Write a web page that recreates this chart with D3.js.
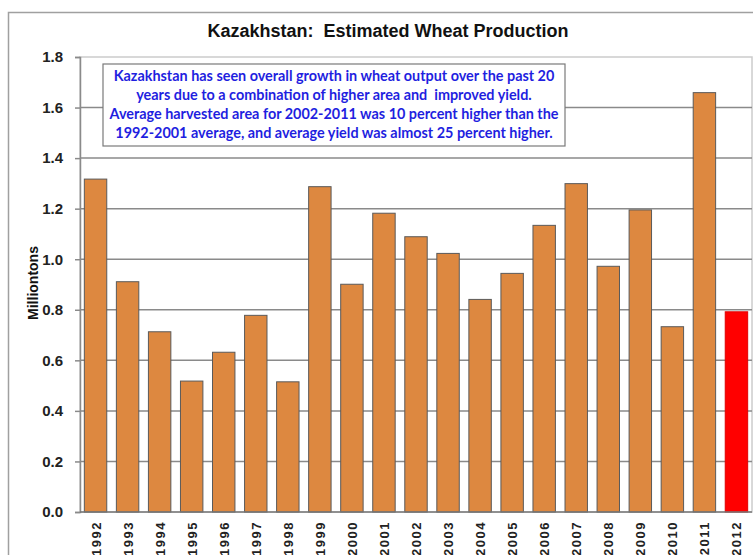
<!DOCTYPE html>
<html>
<head>
<meta charset="utf-8">
<script src="https://cdn.jsdelivr.net/npm/d3@7"></script>
<style>
  body { margin: 0; background: #fff; }
  svg { display: block; }
</style>
</head>
<body>
<div id="chart"></div>
<script>
// wheat production, million tons
var years = ["1992","1993","1994","1995","1996","1997","1998","1999","2000","2001","2002",
             "2003","2004","2005","2006","2007","2008","2009","2010","2011","2012"];
var production = [1.317, 0.911, 0.713, 0.518, 0.632, 0.778, 0.515, 1.287, 0.901, 1.182, 1.089,
                  1.023, 0.841, 0.944, 1.134, 1.299, 0.972, 1.195, 0.733, 1.659, 0.792];
var yTicks = [0, 0.2, 0.4, 0.6, 0.8, 1.0, 1.2, 1.4, 1.6, 1.8];
var note = [
  "Kazakhstan has seen overall growth in wheat output over the past 20",
  "years due to a combination of higher area and  improved yield.",
  "Average harvested area for 2002-2011 was 10 percent higher than the",
  "1992-2001 average, and average yield was almost 25 percent higher."
];

var width = 753, height = 555;
var plot = {left: 80, right: 752, top: 57, bottom: 512};

var svg = d3.select("#chart").append("svg")
  .attr("width", width)
  .attr("height", height);

// outer chart frame (cut off on the right and bottom)
svg.append("path")
  .attr("d", "M8.5," + height + "V12.5H" + width)
  .attr("fill", "none")
  .attr("stroke", "#a0a0a0")
  .attr("stroke-width", 1.5);

// scales
var x = d3.scaleBand()
  .domain(years)
  .range([plot.left, plot.right])
  .paddingInner(0.3)
  .paddingOuter(0.135);

var y = d3.scaleLinear()
  .domain([0, 1.8])
  .range([plot.bottom, plot.top]);

// plot area border
svg.append("rect")
  .attr("x", plot.left)
  .attr("y", plot.top)
  .attr("width", plot.right - plot.left)
  .attr("height", plot.bottom - plot.top)
  .attr("fill", "none")
  .attr("stroke", "#cccccc")
  .attr("stroke-width", 1.5);

// gridlines
svg.selectAll(".grid")
  .data(yTicks.filter(function(d) { return d > 0 && d < 1.8; }))
  .enter().append("line")
  .attr("class", "grid")
  .attr("x1", plot.left)
  .attr("x2", plot.right)
  .attr("y1", function(d) { return y(d); })
  .attr("y2", function(d) { return y(d); })
  .attr("stroke", "#8a8a8a")
  .attr("stroke-width", 1.5);

// y axis
var yAxis = svg.append("g")
  .attr("transform", "translate(" + plot.left + ",0)")
  .call(d3.axisLeft(y).tickValues(yTicks).tickFormat(d3.format(".1f")).tickSize(5).tickPadding(12));
yAxis.select(".domain").attr("stroke", "#8a8a8a").attr("stroke-width", 1.5);
yAxis.selectAll(".tick line").attr("stroke", "#8a8a8a").attr("stroke-width", 1.5);
yAxis.selectAll(".tick text")
  .attr("font-family", "Liberation Sans, Arial, sans-serif")
  .attr("font-weight", "bold")
  .attr("font-size", 15)
  .attr("fill", "#222");

// bars
svg.selectAll(".bar")
  .data(production)
  .enter().append("rect")
  .attr("class", "bar")
  .attr("x", function(d, i) { return x(years[i]); })
  .attr("width", x.bandwidth())
  .attr("y", function(d) { return y(d); })
  .attr("height", function(d) { return y(0) - y(d); })
  .attr("fill", function(d, i) { return years[i] === "2012" ? "#ff0000" : "#dd8840"; })
  .attr("stroke", function(d, i) { return years[i] === "2012" ? "#e00000" : "#5a5a5a"; })
  .attr("stroke-width", 1);

// x axis baseline
svg.append("line")
  .attr("x1", plot.left)
  .attr("x2", plot.right)
  .attr("y1", y(0))
  .attr("y2", y(0))
  .attr("stroke", "#777")
  .attr("stroke-width", 1.5);

// x labels, rotated
svg.selectAll(".xlab")
  .data(years)
  .enter().append("text")
  .attr("class", "xlab")
  .attr("transform", function(d) {
    return "translate(" + (x(d) + x.bandwidth() / 2 + 5) + "," + (y(0) + 9) + ") rotate(-90)";
  })
  .attr("text-anchor", "end")
  .attr("font-family", "Liberation Sans, Arial, sans-serif")
  .attr("font-weight", "bold")
  .attr("font-size", 13)
  .attr("letter-spacing", 1.5)
  .attr("fill", "#222")
  .text(function(d) { return d; });

// y axis title
svg.append("text")
  .attr("transform", "translate(38,283) rotate(-90)")
  .attr("text-anchor", "middle")
  .attr("font-family", "Liberation Sans, Arial, sans-serif")
  .attr("font-weight", "bold")
  .attr("font-size", 14)
  .attr("fill", "#111")
  .text("Milliontons");

// title
svg.append("text")
  .attr("x", 388)
  .attr("y", 37)
  .attr("text-anchor", "middle")
  .attr("font-family", "Liberation Sans, Arial, sans-serif")
  .attr("font-weight", "bold")
  .attr("font-size", 18)
  .attr("fill", "#111")
  .style("white-space", "pre")
  .text("Kazakhstan:  Estimated Wheat Production");

// note box
var box = svg.append("g");
box.append("rect")
  .attr("x", 103)
  .attr("y", 64)
  .attr("width", 462)
  .attr("height", 82)
  .attr("fill", "#fff")
  .attr("stroke", "#7a7a7a")
  .attr("stroke-width", 1.2);
box.selectAll("text")
  .data(note)
  .enter().append("text")
  .attr("x", 334)
  .attr("y", function(d, i) { return 81 + i * 19; })
  .attr("text-anchor", "middle")
  .attr("font-family", "Lato, Open Sans, sans-serif")
  .attr("font-weight", "bold")
  .attr("font-size", 14.4)
  .attr("fill", "#1f1fe0")
  .style("white-space", "pre")
  .text(function(d) { return d; });
</script>
</body>
</html>
